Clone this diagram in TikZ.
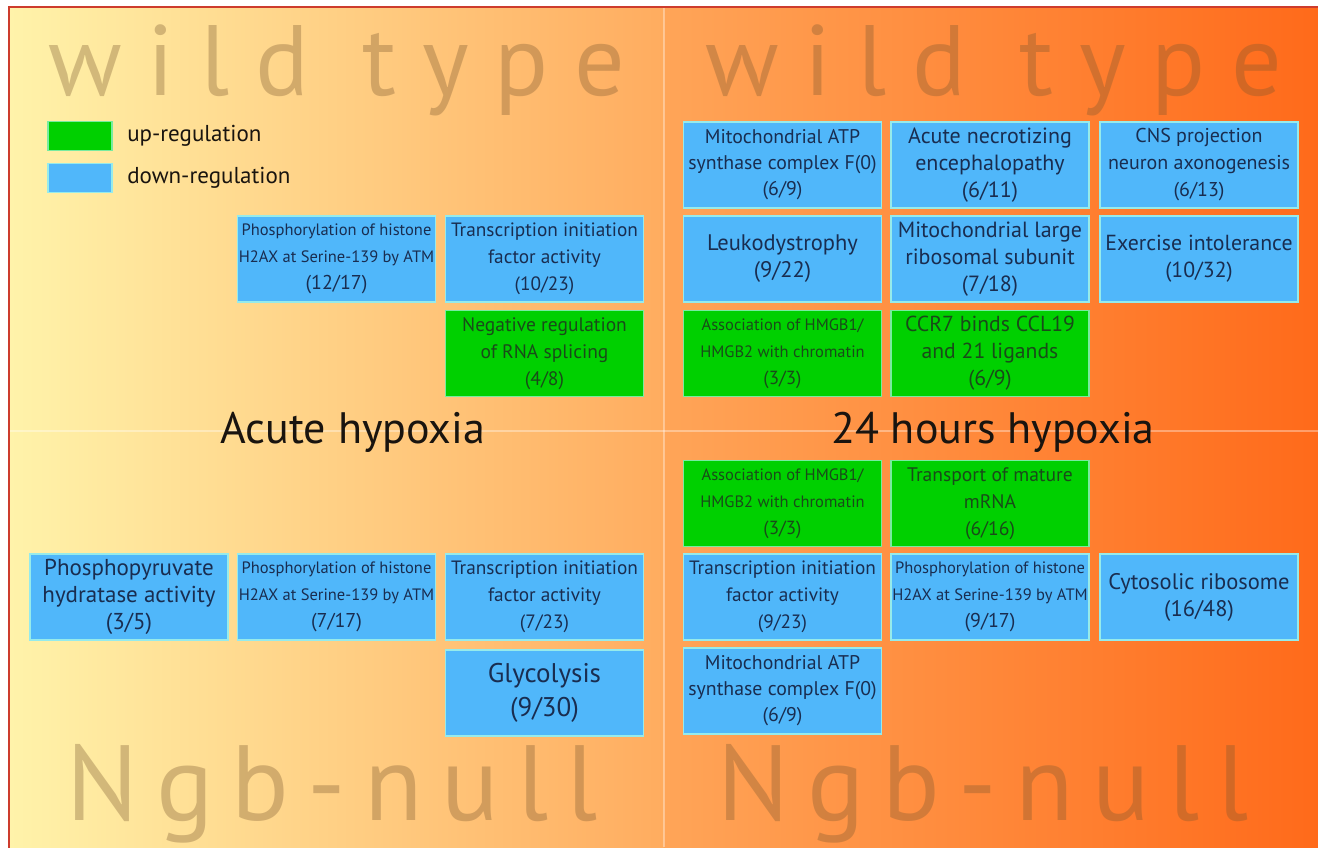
\documentclass[tikz,border=0pt]{standalone}
\usepackage{fontspec}
\setmainfont{PT Sans}
\usetikzlibrary{positioning}
\definecolor{upgreen}{RGB}{0,208,0}
\definecolor{upedge}{RGB}{120,235,160}
\definecolor{downblue}{RGB}{80,183,250}
\definecolor{downedge}{RGB}{150,235,235}
\definecolor{uptext}{RGB}{25,75,25}
\definecolor{downtext}{RGB}{25,45,80}
\definecolor{headblack}{RGB}{25,20,15}
\definecolor{bgyellow}{RGB}{255,243,170}
\definecolor{bgmidleft}{RGB}{255,172,95}
\definecolor{bgmidright}{RGB}{255,165,88}
\definecolor{bgorange}{RGB}{255,105,25}
\definecolor{framered}{RGB}{205,60,45}
\definecolor{markbrown}{RGB}{120,85,45}

\begin{document}
\begin{tikzpicture}[x=1pt, y=-1pt,
  every node/.style={font=\fontsize{19}{27}\selectfont},
  termbox/.style={line width=1.5pt, minimum width=198pt, minimum height=86pt, inner sep=0pt, align=center},
  upbox/.style={termbox, fill=upgreen, draw=upedge, text=uptext},
  downbox/.style={termbox, fill=downblue, draw=downedge, text=downtext},
  smallterm/.style={font=\fontsize{16.5}{27}\selectfont},
  watermark/.style={anchor=base, text=markbrown, text opacity=0.33},
  heading/.style={anchor=base, text=headblack, font=\fontsize{44}{44}\selectfont},
  legendkey/.style={line width=1.5pt, minimum width=64pt, minimum height=29pt, inner sep=0pt},
  legendtext/.style={anchor=west, text=headblack, font=\fontsize{23}{23}\selectfont},
  paneline/.style={white, opacity=0.35, line width=2pt}]
  % background panels
  \useasboundingbox (0,0) rectangle (1318,847);
  \clip (0,0) rectangle (1318,847);
  \fill[white] (0,0) rectangle (1318,847);
  \shade[left color=bgyellow, right color=bgmidleft] (9,7) rectangle (664,860);
  \shade[left color=bgmidright, right color=bgorange] (664,7) rectangle (1330,860);
  \draw[paneline] (664,7) -- (664,847);
  \draw[paneline] (9,431) -- (1318,431);
  \draw[framered, line width=2pt] (9,7) rectangle (1330,860);
  % watermarks
  \node[watermark, font=\fontsize{100}{100}\selectfont\addfontfeatures{LetterSpace=26}] (wtleft) at (337,95) {wild type};
  \node[watermark, font=\fontsize{100}{100}\selectfont\addfontfeatures{LetterSpace=26}] (wtright) at (994,95) {wild type};
  \node[watermark, font=\fontsize{107}{107}\selectfont\addfontfeatures{LetterSpace=17}] (ngbleft) at (332,820) {Ngb-null};
  \node[watermark, font=\fontsize{107}{107}\selectfont\addfontfeatures{LetterSpace=17}] (ngbright) at (983,820) {Ngb-null};
  % headings
  \node[heading] (acute) at (353,443) {Acute hypoxia};
  \node[heading] (hours) at (993,443) {24 hours hypoxia};
  % legend
  \node[legendkey, fill=upgreen, draw=upedge] (upkey) at (80,136) {};
  \node[legendkey, fill=downblue, draw=downedge] (downkey) at (80,178) {};
  \node[legendtext, right=11pt of upkey] (uplabel) {up-regulation};
  \node[legendtext, right=11pt of downkey] (downlabel) {down-regulation};
  % wild type, acute hypoxia
  \node[downbox, smallterm] (wtAcHist) at (336.5,259) {Phosphorylation of histone\\H2AX at Serine-139 by ATM\\{\fontsize{20}{27}\selectfont(12/17)}};
  \node[downbox, font=\fontsize{19.3}{27}\selectfont] (wtAcTrans) at (544.5,259) {Transcription initiation\\factor activity\\(10/23)};
  \node[upbox, font=\fontsize{19.5}{27}\selectfont] (wtAcSplice) at (544.5,353.5) {Negative regulation\\of RNA splicing\\(4/8)};
  % wild type, 24 hours hypoxia
  \node[downbox, font=\fontsize{19.8}{26}\selectfont] (wtHrAtp) at (782.5,165) {Mitochondrial ATP\\synthase complex F(0)\\(6/9)};
  \node[downbox, font=\fontsize{22}{27}\selectfont] (wtHrNecro) at (990,165) {Acute necrotizing\\encephalopathy\\(6/11)};
  \node[downbox, font=\fontsize{20}{27}\selectfont] (wtHrCns) at (1199,165) {CNS projection\\neuron axonogenesis\\(6/13)};
  \node[downbox, font=\fontsize{22.5}{27}\selectfont] (wtHrLeuko) at (782.5,259) {Leukodystrophy\\(9/22)};
  \node[downbox, font=\fontsize{22}{27}\selectfont] (wtHrRibo) at (990,259) {Mitochondrial large\\ribosomal subunit\\(7/18)};
  \node[downbox, font=\fontsize{21.8}{27}\selectfont] (wtHrExer) at (1199,259) {Exercise intolerance\\(10/32)};
  \node[upbox, smallterm] (wtHrHmgb) at (782.5,353.5) {Association of HMGB1/\\HMGB2 with chromatin\\{\fontsize{19}{27}\selectfont(3/3)}};
  \node[upbox, font=\fontsize{21.7}{27}\selectfont] (wtHrCcr) at (990,353.5) {CCR7 binds CCL19\\and 21 ligands\\(6/9)};
  % Ngb-null, acute hypoxia
  \node[downbox, font=\fontsize{23}{27}\selectfont] (ngAcEno) at (129,597) {Phosphopyruvate\\hydratase activity\\(3/5)};
  \node[downbox, smallterm] (ngAcHist) at (336.5,597) {Phosphorylation of histone\\H2AX at Serine-139 by ATM\\{\fontsize{20}{27}\selectfont(7/17)}};
  \node[downbox, font=\fontsize{19.3}{27}\selectfont] (ngAcTrans) at (544.5,597) {Transcription initiation\\factor activity\\(7/23)};
  \node[downbox, font=\fontsize{27}{34}\selectfont] (ngAcGly) at (544.5,693) {Glycolysis\\(9/30)};
  % Ngb-null, 24 hours hypoxia
  \node[upbox, smallterm] (ngHrHmgb) at (782.5,503.5) {Association of HMGB1/\\HMGB2 with chromatin\\{\fontsize{19}{27}\selectfont(3/3)}};
  \node[upbox, font=\fontsize{19.6}{27}\selectfont] (ngHrMrna) at (990,503.5) {Transport of mature\\mRNA\\(6/16)};
  \node[downbox, font=\fontsize{19.3}{27}\selectfont] (ngHrTrans) at (782.5,597) {Transcription initiation\\factor activity\\(9/23)};
  \node[downbox, smallterm] (ngHrHist) at (990,597) {Phosphorylation of histone\\H2AX at Serine-139 by ATM\\{\fontsize{20}{27}\selectfont(9/17)}};
  \node[downbox, font=\fontsize{22.5}{27}\selectfont] (ngHrCyto) at (1199,597) {Cytosolic ribosome\\(16/48)};
  \node[downbox, font=\fontsize{19.8}{26}\selectfont] (ngHrAtp) at (782.5,691) {Mitochondrial ATP\\synthase complex F(0)\\(6/9)};
\end{tikzpicture}
\end{document}
